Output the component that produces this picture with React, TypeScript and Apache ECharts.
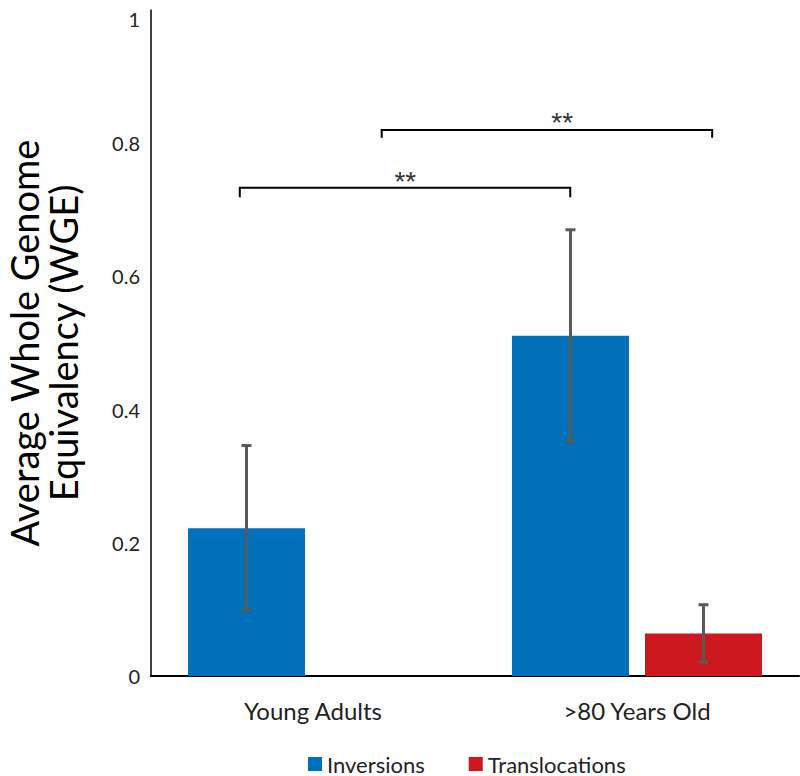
import React, { useEffect, useRef } from "react";
import * as echarts from "echarts";

const categories = ["Young Adults", ">80 Years Old"];
const inversions = [0.222, 0.511];
const inversionsErr = [0.124, 0.159];
const translocations = [0, 0.064];
const translocationsErr = [0, 0.043];
// brackets: [x1, x2, y, yDrop] in category-fraction units on a hidden value axis
const brackets = [
  [0.274, 1.294, 0.733, 0.719],
  [0.712, 1.732, 0.82, 0.808],
];
// significance labels: [x, y, text]
const sigLabels: [number, number, string][] = [
  [0.785, 0.742, "**"],
  [1.269, 0.831, "**"],
];

const FONT = "Lato";
const BAR_W = 117;
const OFFSET = 66.5;

export default function App() {
  const ref = useRef<HTMLDivElement>(null);
  useEffect(() => {
    if (!ref.current) return;
    const chart = echarts.init(ref.current, undefined, { renderer: "svg" });

    const errRender = (offset: number) => (params: any, api: any) => {
      const ci = api.value(0);
      const v = api.value(1);
      const e = api.value(2);
      if (!e) return null;
      const top = api.coord([ci, v + e]);
      const bot = api.coord([ci, v - e]);
      const x = top[0] + offset;
      const style = { stroke: "#595959", lineWidth: 3 };
      return {
        type: "group",
        children: [
          { type: "line", shape: { x1: x, y1: top[1], x2: x, y2: bot[1] }, style },
          { type: "line", shape: { x1: x - 5, y1: top[1], x2: x + 5, y2: top[1] }, style },
          { type: "line", shape: { x1: x - 5, y1: bot[1], x2: x + 5, y2: bot[1] }, style },
        ],
      };
    };

    chart.setOption({
      animation: false,
      grid: {
        left: 151,
        top: 10,
        right: 1,
        bottom: 100,
        containLabel: false,
        outerBoundsMode: "none",
      },
      legend: {
        data: ["Inversions", "Translocations"],
        left: 308,
        top: 753,
        padding: 0,
        itemWidth: 14,
        itemHeight: 14,
        itemGap: 44,
        icon: "rect",
        textStyle: { fontFamily: FONT, fontSize: 22, color: "#222", lineHeight: 18 },
      },
      xAxis: [
        {
          type: "category",
          data: categories,
          axisLine: { lineStyle: { color: "#000", width: 2 } },
          axisTick: { show: false },
          axisLabel: { fontFamily: FONT, fontSize: 24, color: "#222", margin: 22 },
        },
        { type: "value", min: 0, max: 2, show: false },
      ],
      yAxis: {
        type: "value",
        min: 0,
        max: 1,
        interval: 0.2,
        name: "Average Whole Genome\nEquivalency (WGE)",
        nameLocation: "middle",
        nameRotate: 90,
        nameGap: 69,
        nameTextStyle: { fontFamily: FONT, fontSize: 38, color: "#000", lineHeight: 39 },
        axisLine: { show: true, lineStyle: { color: "#000", width: 1.5 } },
        axisTick: { show: false },
        splitLine: { show: false },
        axisLabel: {
          fontFamily: FONT,
          fontSize: 20,
          color: "#222",
          margin: 11,
          lineHeight: 18,
          verticalAlignMaxLabel: "top",
        },
      },
      series: [
        {
          name: "Inversions",
          type: "bar",
          data: inversions,
          barWidth: BAR_W,
          barGap: "13.7%",
          itemStyle: { color: "#0070BA" },
        },
        {
          name: "Translocations",
          type: "bar",
          data: translocations,
          barWidth: BAR_W,
          itemStyle: { color: "#CC181E" },
        },
        {
          type: "custom",
          renderItem: errRender(-OFFSET),
          data: inversions.map((v, i) => [i, v, inversionsErr[i]]),
          z: 10,
          silent: true,
        },
        {
          type: "custom",
          renderItem: errRender(OFFSET),
          data: translocations.map((v, i) => [i, v, translocationsErr[i]]),
          z: 10,
          silent: true,
        },
        {
          type: "custom",
          xAxisIndex: 1,
          renderItem: (params: any, api: any) => {
            const a = api.coord([api.value(0), api.value(2)]);
            const b = api.coord([api.value(1), api.value(2)]);
            const d = api.coord([api.value(0), api.value(3)]);
            return {
              type: "polyline",
              shape: { points: [[a[0], d[1]], a, b, [b[0], d[1]]] },
              style: { stroke: "#000", lineWidth: 2, fill: "none" },
            };
          },
          data: brackets,
          silent: true,
        },
        {
          type: "custom",
          xAxisIndex: 1,
          renderItem: (params: any, api: any) => {
            const p = api.coord([api.value(0), api.value(1)]);
            return {
              type: "text",
              x: p[0],
              y: p[1],
              style: {
                text: sigLabels[params.dataIndex][2],
                fontFamily: "Liberation Sans",
                fontSize: 28,
                fill: "#333",
                align: "center",
                verticalAlign: "middle",
              },
            };
          },
          data: sigLabels.map((s) => [s[0], s[1]]),
          silent: true,
        },
      ],
    });
    return () => chart.dispose();
  }, []);
  return (
    <div
      ref={ref}
      style={{ position: "fixed", left: 0, top: 0, width: 800, height: 776, background: "#fff" }}
    />
  );
}
